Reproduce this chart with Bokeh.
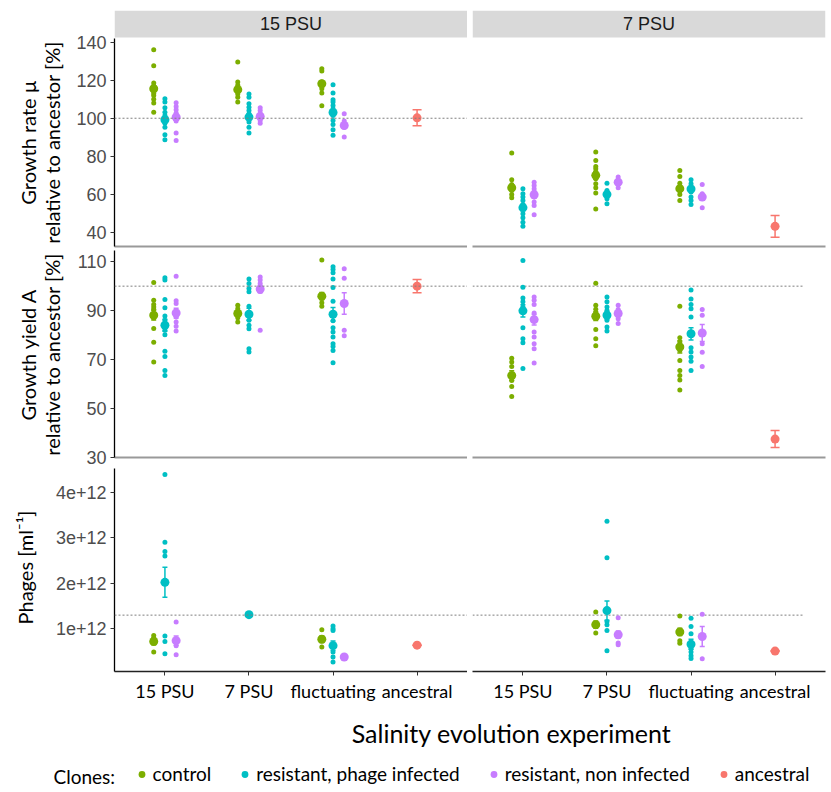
import math
from bokeh.plotting import figure
from bokeh.layouts import column, row
from bokeh.models import (ColumnDataSource, Range1d, FixedTicker, Span, Whisker,
                          TeeHead, Label, Legend, LegendItem, BoxAnnotation)
from bokeh.embed import file_html
from bokeh.resources import INLINE

# ---------------- data ----------------
CATEGORIES = ["15 PSU", "7 PSU", "fluctuating", "ancestral"]
FACETS = ["15 PSU", "7 PSU"]
CLONES = ["control", "resistant, phage infected", "resistant, non infected", "ancestral"]
CLONE_COLORS = ["#7CAE00", "#00BFC4", "#C77CFF", "#F8766D"]
C, I, N, A = CLONES

# growth rate (% of ancestor), facet 15 PSU
RATE_15_POINTS = {
    ("15 PSU", C): [136, 127.6, 118.5, 117, 115, 113, 112, 110, 108, 103.2],
    ("15 PSU", I): [110.2, 108.5, 105.5, 103.2, 101.5, 100.2, 98.8, 97.4, 95.3, 91.3, 88.7],
    ("15 PSU", N): [108.1, 106.2, 104.4, 102.7, 101.5, 100.6, 99.5, 98.5, 92.2, 88.3],
    ("7 PSU", C): [129.5, 119, 117.3, 114.6, 112.8, 111, 108.5],
    ("7 PSU", I): [112.8, 111, 107.6, 105.8, 104, 102.3, 100.6, 98, 95.3, 92.2],
    ("7 PSU", N): [105.5, 104, 102.3, 100.6, 98.8, 97.4],
    ("fluctuating", C): [126, 124.8, 119, 117.3, 115.5, 113.2, 106.5],
    ("fluctuating", I): [117.6, 113.2, 109.7, 108.5, 106.7, 105, 103.2, 101.5, 98.8, 96.7, 94, 91],
    ("fluctuating", N): [102.3, 98.5, 96.7, 95.3, 90.1],
}
RATE_15_MEAN_SE = {
    ("15 PSU", C): (115.5, 1.5), ("15 PSU", I): (99.2, 1.5), ("15 PSU", N): (100.6, 1.5),
    ("7 PSU", C): (115, 1.5), ("7 PSU", I): (100.6, 1.5), ("7 PSU", N): (101, 1.0),
    ("fluctuating", C): (118.1, 1.5), ("fluctuating", I): (103, 1.5), ("fluctuating", N): (96.2, 1.2),
    ("ancestral", A): (100.2, 4.2),
}
# growth rate, facet 7 PSU
RATE_7_POINTS = {
    ("15 PSU", C): [81.7, 67.7, 65.2, 63.8, 62, 59.9, 58.2],
    ("15 PSU", I): [63, 60.3, 58.6, 56.8, 54.7, 52.5, 49.8, 47.7, 45.4, 43.2],
    ("15 PSU", N): [66.4, 64.7, 63, 61.2, 58.6, 56, 54.2, 49.3],
    ("7 PSU", C): [82.2, 77.8, 74.7, 73.5, 71.7, 68.2, 65.6, 63.5, 60.7, 52.3],
    ("7 PSU", I): [65.9, 62, 59.9, 57.7, 55],
    ("7 PSU", N): [69.1, 67.3, 65.6, 63.5],
    ("fluctuating", C): [72.6, 69.4, 65.9, 63.8, 61.7, 59.9, 56.8],
    ("fluctuating", I): [67.7, 65.6, 63.8, 61.2, 58.6, 56.8, 54.7],
    ("fluctuating", N): [65.2, 60.3, 58.6, 53],
}
RATE_7_MEAN_SE = {
    ("15 PSU", C): (63.5, 1.5), ("15 PSU", I): (53, 1.8), ("15 PSU", N): (59.8, 1.8),
    ("7 PSU", C): (70, 2.0), ("7 PSU", I): (60, 1.2), ("7 PSU", N): (66.4, 0.8),
    ("fluctuating", C): (63, 1.2), ("fluctuating", I): (62.8, 1.2), ("fluctuating", N): (58.6, 1.2),
    ("ancestral", A): (43.2, 5.7),
}
# growth yield (% of ancestor), facet 15 PSU
YIELD_15_POINTS = {
    ("15 PSU", C): [101.5, 94.2, 92.5, 91.5, 90.5, 88.5, 87, 82.7, 77, 69],
    ("15 PSU", I): [103.4, 102.5, 94.5, 91.2, 87.8, 86, 84, 81.9, 80.1, 73.4, 71.2, 65.5, 63.4],
    ("15 PSU", N): [104.1, 94, 92.9, 89, 87.4, 85.3, 83.6, 81.6],
    ("7 PSU", C): [92.2, 90.8, 89.5, 88.8, 87.1, 85.3],
    ("7 PSU", I): [102.9, 101.1, 99, 97.7, 91.8, 88.5, 86, 84, 82.6, 74.4, 73],
    ("7 PSU", N): [103.8, 102.5, 101.1, 99.5, 98.5, 97.8, 81.9],
    ("fluctuating", C): [110.7, 96.3, 94.9, 93.2, 91.8],
    ("fluctuating", I): [107.9, 106.8, 105.5, 102.9, 99.5, 93.8, 88.5, 85.8, 83, 81.2, 79.2,
                         76.4, 75.3, 73.7, 68.6],
    ("fluctuating", N): [107.1, 103.2, 92.9, 81.9, 79.7],
}
YIELD_15_MEAN_SE = {
    ("15 PSU", C): (88.1, 2.0), ("15 PSU", I): (84, 2.5), ("15 PSU", N): (89, 2.0),
    ("7 PSU", C): (88.8, 1.0), ("7 PSU", I): (88.5, 2.5), ("7 PSU", N): (98.8, 1.5),
    ("fluctuating", C): (95.9, 1.5), ("fluctuating", I): (88.5, 2.8), ("fluctuating", N): (92.9, 4.4),
    ("ancestral", A): (100, 2.7),
}
# growth yield, facet 7 PSU
YIELD_7_POINTS = {
    ("15 PSU", C): [70.5, 68.9, 67.1, 63.4, 61.4, 58.9, 54.8],
    ("15 PSU", I): [110.5, 99.6, 95.2, 93.6, 91.5, 89.9, 83, 78.5, 76.8, 66.3],
    ("15 PSU", N): [95.6, 94.2, 92.5, 89, 86.3, 81.2, 79.2, 76.4, 74.4, 68.5],
    ("7 PSU", C): [101.2, 92.2, 90.5, 89, 87.7, 82.3, 78.5, 75.6],
    ("7 PSU", I): [95.6, 93.6, 91.5, 90, 88.1, 86, 83.3, 81.6],
    ("7 PSU", N): [92.2, 90.4, 88.8, 86.7, 84.7],
    ("fluctuating", C): [91.8, 78.9, 77.1, 75.1, 73.7, 69.6, 65.5, 63.4, 61.6, 57.5],
    ("fluctuating", I): [98.4, 94.7, 92.5, 90.8, 87.4, 80.5, 74.8, 73, 71, 69.3, 65.5],
    ("fluctuating", N): [90.4, 88.1, 80.8, 76.4, 72.9, 67.1],
}
YIELD_7_MEAN_SE = {
    ("15 PSU", C): (63.4, 2.0), ("15 PSU", I): (89.9, 2.5), ("15 PSU", N): (86.3, 2.2),
    ("7 PSU", C): (87.7, 1.8), ("7 PSU", I): (88.1, 1.5), ("7 PSU", N): (88.8, 1.2),
    ("fluctuating", C): (75.1, 2.5), ("fluctuating", I): (80.5, 2.5), ("fluctuating", N): (80.8, 3.5),
    ("ancestral", A): (37.4, 3.5),
}
# phages (ml^-1, in units of 1e12), facet 15 PSU
PHAGE_UNIT = 1e12
PHAGE_15_POINTS = {
    ("15 PSU", C): [0.85, 0.8, 0.72, 0.49],
    ("15 PSU", I): [4.39, 2.9, 2.7, 2.6, 0.84, 0.72, 0.45],
    ("15 PSU", N): [1.15, 0.74, 0.63, 0.43],
    ("7 PSU", I): [1.31],
    ("fluctuating", C): [0.98, 0.77, 0.6],
    ("fluctuating", I): [1.06, 1.0, 0.96, 0.63, 0.49, 0.38, 0.27],
    ("fluctuating", N): [0.38],
}
PHAGE_15_MEAN_SE = {
    ("15 PSU", C): (0.72, 0.07), ("15 PSU", I): (2.02, 0.33), ("15 PSU", N): (0.74, 0.1),
    ("7 PSU", I): (1.31, 0.0),
    ("fluctuating", C): (0.77, 0.07), ("fluctuating", I): (0.63, 0.1), ("fluctuating", N): (0.38, 0.0),
    ("ancestral", A): (0.64, 0.0),
}
# phages, facet 7 PSU
PHAGE_7_POINTS = {
    ("7 PSU", C): [1.37, 1.09, 0.91],
    ("7 PSU", I): [3.36, 2.56, 1.16, 1.09, 0.96, 0.52],
    ("7 PSU", N): [1.24, 0.87, 0.69, 0.65],
    ("fluctuating", C): [1.28, 0.93, 0.74, 0.68],
    ("fluctuating", I): [1.23, 1.05, 0.89, 0.66, 0.56, 0.49, 0.41, 0.35],
    ("fluctuating", N): [1.32, 0.83, 0.34],
}
PHAGE_7_MEAN_SE = {
    ("7 PSU", C): (1.09, 0.08), ("7 PSU", I): (1.40, 0.21), ("7 PSU", N): (0.87, 0.08),
    ("fluctuating", C): (0.93, 0.08), ("fluctuating", I): (0.66, 0.11), ("fluctuating", N): (0.83, 0.22),
    ("ancestral", A): (0.51, 0.0),
}

REF_RATE, REF_YIELD, REF_PHAGE = 100, 100, 1.3
RATE_TICKS = [40, 60, 80, 100, 120, 140]
RATE_TICK_LABELS = ["40", "60", "80", "100", "120", "140"]
YIELD_TICKS = [30, 50, 70, 90, 110]
YIELD_TICK_LABELS = ["30", "50", "70", "90", "110"]
PHAGE_TICKS = [1, 2, 3, 4]
PHAGE_TICK_LABELS = ["1e+12", "2e+12", "3e+12", "4e+12"]

RATE_TITLE = ["Growth rate \u00b5", "relative to ancestor [%]"]
YIELD_TITLE = ["Growth yield A", "relative to ancestor [%]"]
PHAGE_TITLE = ["Phages [ml\u207b\u00b9]"]

# ---------------- styling ----------------
FW = 353
LEFT_B, GAP, RIGHT_B = 114, 5, 6
DODGE = 0.4
TICK_FONT = "Liberation Sans"
TEXT_FONT = "Lato"
STRIP_H, STRIP_GAP = 27, 1     # facet strip height and gap above the panel (px)


def base_fig(fw, fh, xr, yr, mb_left, mb_right, mb_top, mb_bottom, axes=True):
    kw = {} if axes else dict(x_axis_type=None, y_axis_type=None)
    p = figure(frame_width=fw, frame_height=fh, x_range=xr, y_range=yr,
               output_backend="svg", toolbar_location=None, min_border=0,
               min_border_left=mb_left, min_border_right=mb_right,
               min_border_top=mb_top, min_border_bottom=mb_bottom, **kw)
    p.outline_line_color = None
    p.grid.visible = False
    p.background_fill_color = "white"
    p.border_fill_color = "white"
    return p


def title_fig(lines, width, fh, mb_top, mb_bottom, centers, yc):
    t = base_fig(width, fh, Range1d(0, width), Range1d(0, fh), 0, 0, mb_top, mb_bottom, axes=False)
    for txt, cx in zip(lines, centers):
        t.add_layout(Label(x=cx, y=yc, text=txt, angle=math.pi / 2, text_align="center",
                           text_baseline="middle", text_font=TEXT_FONT, text_font_size="20px",
                           text_color="black"))
    return t


def panel(points, stats, yr, ticks, tick_labels, ref, ref_end, left, bottom, fh, mb_top,
          mb_bottom, mb_left=GAP, unit=1.0, strip=None):
    lo_v, hi_v = yr
    y_end = hi_v
    per_px = (hi_v - lo_v) / fh
    if strip is not None:
        y_end = hi_v + (STRIP_H + STRIP_GAP) * per_px
    ph = fh + (STRIP_H + STRIP_GAP if strip is not None else 0)
    p = base_fig(FW, ph, Range1d(0.4, 4.6), Range1d(lo_v * unit, y_end * unit),
                 mb_left, 0 if left else RIGHT_B, mb_top, mb_bottom)

    if strip is not None:
        strip_bottom = hi_v + STRIP_GAP * per_px
        p.add_layout(BoxAnnotation(bottom=strip_bottom * unit, fill_color="#D9D9D9", fill_alpha=1,
                                   line_color=None))
        p.add_layout(Label(x=2.5, y=(strip_bottom + STRIP_H / 2 * per_px) * unit, text=strip,
                           text_align="center", text_baseline="middle", text_font=TICK_FONT,
                           text_font_size="18px", text_color="#1A1A1A"))

    if left:
        ax = p.yaxis[0]
        ax.ticker = FixedTicker(ticks=[t * unit for t in ticks], minor_ticks=[])
        ax.major_label_overrides = {t * unit: lab for t, lab in zip(ticks, tick_labels)}
        ax.bounds = (lo_v * unit, hi_v * unit)
        ax.axis_line_color = "black"
        ax.axis_line_width = 1.3
        ax.major_tick_line_color = "#333333"
        ax.major_tick_out = 4
        ax.major_tick_in = 0
        ax.minor_tick_out = 0
        ax.minor_tick_line_color = None
        ax.major_label_text_font = TICK_FONT
        ax.major_label_text_font_size = "18px"
        ax.major_label_text_color = "#4D4D4D"
        ax.major_label_standoff = 4
    else:
        p.yaxis.visible = False

    ax = p.xaxis[0]
    ax.minor_tick_out = 0
    ax.minor_tick_in = 0
    ax.minor_tick_line_color = None
    ax.major_tick_in = 0
    if bottom:
        ax.ticker = FixedTicker(ticks=[1, 2, 3, 4], minor_ticks=[])
        ax.major_label_overrides = {i + 1: c for i, c in enumerate(CATEGORIES)}
        ax.axis_line_color = "#222222"
        ax.axis_line_width = 1.3
        ax.major_tick_line_color = "#333333"
        ax.major_tick_out = 4
        ax.major_label_text_font = TEXT_FONT
        ax.major_label_text_font_size = "18px"
        ax.major_label_text_color = "black"
        ax.major_label_standoff = 4
    else:
        # plain grey panel bottom line, no ticks, no labels
        ax.ticker = FixedTicker(ticks=[], minor_ticks=[])
        ax.axis_line_color = "#999999"
        ax.axis_line_width = 2
        ax.major_tick_out = 0
        ax.major_tick_line_color = None
        ax.major_label_standoff = 0

    if ref_end is None:
        p.add_layout(Span(location=ref * unit, dimension="width", line_color="#7F7F7F",
                          line_width=1, line_dash="2 2"))
    else:
        p.segment(x0=[0.4], y0=[ref * unit], x1=[ref_end], y1=[ref * unit],
                  line_color="#7F7F7F", line_width=1, line_dash="2 2")

    for clone, color in zip(CLONES, CLONE_COLORS):
        px, py, mx, my, lo, hi = [], [], [], [], [], []
        for ci, cat in enumerate(CATEGORIES):
            present = [cl for cl in CLONES if (cat, cl) in stats]
            if clone not in present:
                continue
            n = len(present)
            j = present.index(clone)
            off = 0.0 if n == 1 else (j - (n - 1) / 2) * DODGE / n
            xpos = ci + 1 + off
            for v in points.get((cat, clone), []):
                px.append(xpos)
                py.append(v * unit)
            m, se = stats[(cat, clone)]
            mx.append(xpos)
            my.append(m * unit)
            lo.append((m - se) * unit)
            hi.append((m + se) * unit)
        if px:
            p.scatter(px, py, size=5, color=color, line_color=None)
        if mx:
            src = ColumnDataSource(dict(x=mx, lower=lo, upper=hi))
            cap = 9 if clone == A else 5
            p.add_layout(Whisker(source=src, base="x", lower="lower", upper="upper",
                                 line_color=color, line_width=1.5,
                                 upper_head=TeeHead(size=cap, line_color=color, line_width=1.5),
                                 lower_head=TeeHead(size=cap, line_color=color, line_width=1.5)))
            p.scatter(mx, my, size=9, color=color, line_color=None)
    return p


REF_END_RIGHT = 4.34
T12 = 64   # width of the title column for rows 1-2
T3 = 40    # width of the title column for row 3

# row 1 (with facet strips): strip 10-37, frame 38-246, canvas ends 250
t1 = title_fig(RATE_TITLE, T12, 236, 10, 4, [27, 51], 104)
r1a = panel(RATE_15_POINTS, RATE_15_MEAN_SE, (32.6, 141.9), RATE_TICKS, RATE_TICK_LABELS,
            REF_RATE, None, True, False, 208, 10, 4, LEFT_B - T12, strip=FACETS[0])
r1b = panel(RATE_7_POINTS, RATE_7_MEAN_SE, (32.6, 141.9), RATE_TICKS, RATE_TICK_LABELS,
            REF_RATE, REF_END_RIGHT, False, False, 208, 10, 4, strip=FACETS[1])
# row 2: frame 250-457, canvas ends 468 (room for the lowest tick label)
t2 = title_fig(YIELD_TITLE, T12, 207, 0, 11, [27, 51], 103)
r2a = panel(YIELD_15_POINTS, YIELD_15_MEAN_SE, (29.85, 114.6), YIELD_TICKS, YIELD_TICK_LABELS,
            REF_YIELD, None, True, False, 207, 0, 11, LEFT_B - T12)
r2b = panel(YIELD_7_POINTS, YIELD_7_MEAN_SE, (29.85, 114.6), YIELD_TICKS, YIELD_TICK_LABELS,
            REF_YIELD, REF_END_RIGHT, False, False, 207, 0, 11)
# row 3: frame 468-671
PHAGE_RANGE = (0.062, 4.52)
t3 = title_fig(PHAGE_TITLE, T3, 203, 0, 40, [24], 104)
r3a = panel(PHAGE_15_POINTS, PHAGE_15_MEAN_SE, PHAGE_RANGE, PHAGE_TICKS, PHAGE_TICK_LABELS,
            REF_PHAGE, None, True, True, 203, 0, 40, LEFT_B - T3, PHAGE_UNIT)
r3b = panel(PHAGE_7_POINTS, PHAGE_7_MEAN_SE, PHAGE_RANGE, PHAGE_TICKS, PHAGE_TICK_LABELS,
            REF_PHAGE, REF_END_RIGHT, False, True, 203, 0, 40, GAP, PHAGE_UNIT)

# bottom: axis title + legend
BH = 81
b = base_fig(831, BH, Range1d(0, 831), Range1d(0, BH), 0, 0, 0, 0, axes=False)
b.add_layout(Label(x=511, y=60, text="Salinity evolution experiment", text_align="center",
                   text_baseline="middle", text_font=TEXT_FONT, text_font_size="25px",
                   text_color="black"))
b.add_layout(Label(x=53, y=16, text="Clones:", text_align="left", text_baseline="middle",
                   text_font=TEXT_FONT, text_font_size="19px", text_color="black"))
items = []
for clone, color in zip(CLONES, CLONE_COLORS):
    r = b.scatter(x=[float("nan")], y=[float("nan")], size=7, color=color, line_color=None)
    items.append(LegendItem(label=clone, renderers=[r]))
leg = Legend(items=items, orientation="horizontal", location=(132.5, 7), glyph_width=17,
             glyph_height=18, label_height=18, label_standoff=3, spacing=25, padding=0, margin=0,
             border_line_alpha=0, background_fill_alpha=0, label_text_font=TEXT_FONT,
             label_text_font_size="19px", label_text_color="black")
b.add_layout(leg)

layout = column(row(t1, r1a, r1b), row(t2, r2a, r2b), row(t3, r3a, r3b), b)
open("out.html", "w").write(file_html(layout, INLINE))
